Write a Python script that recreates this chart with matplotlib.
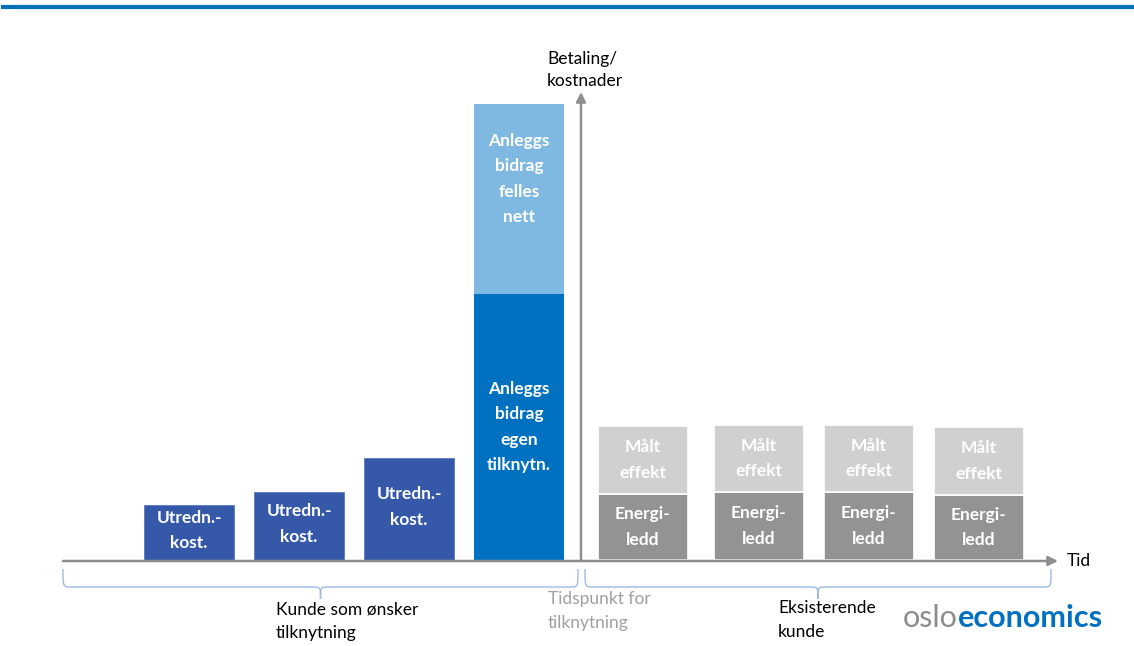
import numpy as np
import matplotlib.pyplot as plt
from matplotlib.path import Path
from matplotlib.patches import PathPatch
from matplotlib.lines import Line2D

plt.rcParams['font.family'] = ['Lato', 'DejaVu Sans']

# bar centres along the time axis and their heights (cost units)
utredn_x = [189, 299, 409]
utredn = [55, 68, 102]

anlegg_x = 519
anlegg_egen = 266
anlegg_felles = 190

drift_x = [643, 759, 869, 979]
energiledd = [66, 68, 68, 65]
maalt_effekt = [68, 67, 67, 68]

bar_w = 90
c_utredn = '#3559A8'
c_egen = '#0070C0'
c_felles = '#7FB8E0'
c_light = '#D0D0D2'
c_dark = '#939396'
c_axis = '#8E8E8E'
c_brace = '#9DBBE0'
fs = 12.5

fig = plt.figure(figsize=(11.34, 6.46), dpi=100)
ax = fig.add_axes([0, 0, 1, 1])
ax.set_xlim(0, 1134)
ax.set_ylim(-86, 560)
ax.axis('off')

# blue rule along the top
fig.add_artist(Line2D([0.003, 1], [1 - 7/646]*2, transform=fig.transFigure,
                      color='#0070B8', lw=3))

# bars
ax.bar(utredn_x, utredn, width=bar_w, color=c_utredn, edgecolor='#5A7BC0', lw=0.6)
ax.bar(anlegg_x, anlegg_egen, width=bar_w, color=c_egen)
ax.bar(anlegg_x, anlegg_felles, bottom=anlegg_egen, width=bar_w, color=c_felles)
ax.bar(drift_x, energiledd, width=bar_w, color=c_dark, edgecolor='white', lw=1.2)
ax.bar(drift_x, maalt_effekt, bottom=energiledd, width=bar_w, color=c_light,
       edgecolor='white', lw=1.2)

lbl = dict(ha='center', va='center', color='white', fontsize=fs,
           fontweight='bold', linespacing=1.72)
for x, h in zip(utredn_x, utredn):
    ax.text(x, h/2 + 2, 'Utredn.-\nkost.', **lbl)
ax.text(anlegg_x, anlegg_egen/2, 'Anleggs\nbidrag\negen\ntilknytn.', **lbl)
ax.text(anlegg_x, anlegg_egen + anlegg_felles/2 + 20, 'Anleggs\nbidrag\nfelles\nnett', **lbl)
for x, e, m in zip(drift_x, energiledd, maalt_effekt):
    ax.text(x, e/2, 'Energi-\nledd', **lbl)
    ax.text(x, e + m/2, 'Målt\neffekt', **lbl)

# axes with arrow heads
arr = dict(arrowstyle='-|>', color=c_axis, lw=1.8, mutation_scale=14,
           shrinkA=0, shrinkB=0)
ax.annotate('', xy=(1058, -1), xytext=(63, -1), arrowprops=arr)
ax.annotate('', xy=(581, 468), xytext=(581, -1), arrowprops=arr)

ax.text(1067, -1, 'Tid', ha='left', va='center', fontsize=fs, color='black')
ax.text(547, 490, 'Betaling/\nkostnader', ha='left', va='center', fontsize=fs,
        color='black', linespacing=1.45)


def brace(x0, x1, ytop, depth):
    # curly brace opening upwards, tip pointing down at the middle
    xm = (x0 + x1) / 2
    yb = ytop - depth * 0.6
    yt = ytop - depth
    r = 8
    verts = [(x0, ytop), (x0, yb), (x0, yb), (x0 + r, yb),
             (xm - r, yb), (xm, yb), (xm, yb), (xm, yt),
             (xm, yb), (xm, yb), (xm + r, yb),
             (x1 - r, yb), (x1, yb), (x1, yb), (x1, ytop)]
    codes = [Path.MOVETO, Path.CURVE4, Path.CURVE4, Path.CURVE4,
             Path.LINETO, Path.CURVE4, Path.CURVE4, Path.CURVE4,
             Path.CURVE4, Path.CURVE4, Path.CURVE4,
             Path.LINETO, Path.CURVE4, Path.CURVE4, Path.CURVE4]
    ax.add_patch(PathPatch(Path(verts, codes), fill=False, ec=c_brace, lw=1.0))


brace(63, 578, -9, 30)
brace(585, 1051, -9, 30)

ax.text(276, -61, 'Kunde som ønsker\ntilknytning', ha='left', va='center',
        fontsize=fs, color='black', linespacing=1.57)
ax.text(548, -51, 'Tidspunkt for\ntilknytning', ha='left', va='center',
        fontsize=fs, color='#A0A0A0', linespacing=1.57)
ax.text(778, -60, 'Eksisterende\nkunde', ha='left', va='center',
        fontsize=fs, color='black', linespacing=1.57)

# logo text
t1 = ax.text(903, -58, 'oslo', ha='left', va='center', fontsize=22,
             color='#8C8C8C', fontweight='normal')
ax.annotate('economics', xy=(1, 0), xycoords=t1, va='bottom', ha='left',
            fontsize=22, color='#0070C0', fontweight='bold')

fig.savefig('out.png', dpi=100)
